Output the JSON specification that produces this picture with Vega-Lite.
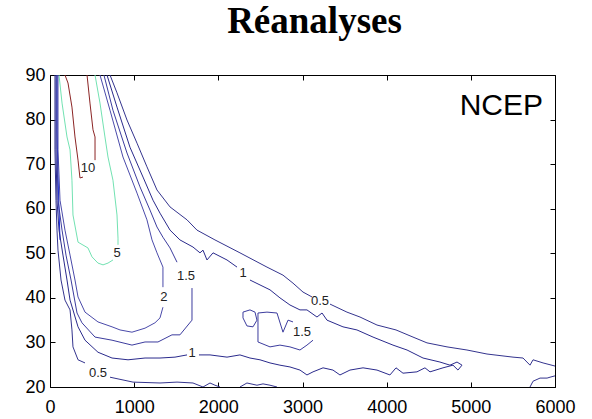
{
  "$schema": "https://vega.github.io/schema/vega-lite/v6.json",
  "width": 505,
  "height": 312,
  "autosize": {"type": "none"},
  "padding": {"left": 50, "top": 75, "right": 37, "bottom": 32},
  "background": "white",
  "title": {"text": "Réanalyses", "font": "Liberation Serif", "fontSize": 37, "fontWeight": "bold", "color": "black", "anchor": "middle", "dx": 12, "offset": -4, "baseline": "alphabetic"},
  "config": {"view": {"stroke": null}},
  "datasets": {
    "lines": [
      {"s":"red1","lv":"10","x":178,"y":90.0},{"s":"red1","lv":"10","x":214,"y":88.2},{"s":"red1","lv":"10","x":261,"y":82.8},{"s":"red1","lv":"10","x":297,"y":76.1},{"s":"red1","lv":"10","x":333,"y":70.9},{"s":"red1","lv":"10","x":356,"y":66.9},{"s":"red1","lv":"10","x":392,"y":67.1},
      {"s":"red2","lv":"10","x":535,"y":70.9},{"s":"red2","lv":"10","x":535,"y":76.1},{"s":"red2","lv":"10","x":511,"y":77.7},{"s":"red2","lv":"10","x":475,"y":83.7},{"s":"red2","lv":"10","x":440,"y":90.0},
      {"s":"g1","lv":"5","x":107,"y":90.0},{"s":"g1","lv":"5","x":143,"y":83.7},{"s":"g1","lv":"5","x":202,"y":76.1},{"s":"g1","lv":"5","x":238,"y":73.2},{"s":"g1","lv":"5","x":261,"y":66.4},{"s":"g1","lv":"5","x":273,"y":58.6},{"s":"g1","lv":"5","x":333,"y":52.5},{"s":"g1","lv":"5","x":451,"y":51.2},{"s":"g1","lv":"5","x":499,"y":49.2},{"s":"g1","lv":"5","x":570,"y":47.8},{"s":"g1","lv":"5","x":630,"y":47.4},{"s":"g1","lv":"5","x":689,"y":47.8},{"s":"g1","lv":"5","x":748,"y":48.5},
      {"s":"g2","lv":"5","x":808,"y":51.9},{"s":"g2","lv":"5","x":808,"y":53.4},{"s":"g2","lv":"5","x":796,"y":58.6},{"s":"g2","lv":"5","x":748,"y":66.4},{"s":"g2","lv":"5","x":689,"y":71.6},{"s":"g2","lv":"5","x":653,"y":76.1},{"s":"g2","lv":"5","x":594,"y":83.7},{"s":"g2","lv":"5","x":535,"y":90.0},
      {"s":"bb","lv":"3","x":83,"y":90.0},{"s":"bb","lv":"3","x":83,"y":77.7},{"s":"bb","lv":"3","x":95,"y":67.6},{"s":"bb","lv":"3","x":107,"y":59.7},{"s":"bb","lv":"3","x":119,"y":53.0},
      {"s":"a05a","lv":"0.5","x":713,"y":90.0},{"s":"a05a","lv":"0.5","x":796,"y":86.0},{"s":"a05a","lv":"0.5","x":915,"y":79.9},{"s":"a05a","lv":"0.5","x":1034,"y":74.7},{"s":"a05a","lv":"0.5","x":1152,"y":69.4},{"s":"a05a","lv":"0.5","x":1271,"y":64.2},{"s":"a05a","lv":"0.5","x":1426,"y":60.4},{"s":"a05a","lv":"0.5","x":1628,"y":57.5},{"s":"a05a","lv":"0.5","x":1746,"y":55.2},{"s":"a05a","lv":"0.5","x":1960,"y":53.0},{"s":"a05a","lv":"0.5","x":2257,"y":50.1},{"s":"a05a","lv":"0.5","x":2578,"y":46.9},{"s":"a05a","lv":"0.5","x":2768,"y":45.1},{"s":"a05a","lv":"0.5","x":2887,"y":43.3},{"s":"a05a","lv":"0.5","x":3006,"y":41.3},{"s":"a05a","lv":"0.5","x":3113,"y":40.2},
      {"s":"a05b","lv":"0.5","x":3327,"y":38.6},{"s":"a05b","lv":"0.5","x":3528,"y":36.8},{"s":"a05b","lv":"0.5","x":3683,"y":35.7},{"s":"a05b","lv":"0.5","x":3885,"y":33.9},{"s":"a05b","lv":"0.5","x":4111,"y":32.8},{"s":"a05b","lv":"0.5","x":4313,"y":31.2},{"s":"a05b","lv":"0.5","x":4479,"y":29.9},{"s":"a05b","lv":"0.5","x":4717,"y":29.0},{"s":"a05b","lv":"0.5","x":4954,"y":28.3},{"s":"a05b","lv":"0.5","x":5192,"y":27.4},{"s":"a05b","lv":"0.5","x":5501,"y":26.7},{"s":"a05b","lv":"0.5","x":5620,"y":26.5},{"s":"a05b","lv":"0.5","x":5703,"y":24.9},{"s":"a05b","lv":"0.5","x":5739,"y":26.1},{"s":"a05b","lv":"0.5","x":5858,"y":25.4},{"s":"a05b","lv":"0.5","x":6000,"y":24.7},
      {"s":"a05c","lv":"0.5","x":59,"y":90.0},{"s":"a05c","lv":"0.5","x":59,"y":73.2},{"s":"a05c","lv":"0.5","x":71,"y":61.9},{"s":"a05c","lv":"0.5","x":83,"y":55.2},{"s":"a05c","lv":"0.5","x":95,"y":50.7},{"s":"a05c","lv":"0.5","x":131,"y":44.0},{"s":"a05c","lv":"0.5","x":178,"y":39.5},{"s":"a05c","lv":"0.5","x":238,"y":37.3},{"s":"a05c","lv":"0.5","x":261,"y":32.8},{"s":"a05c","lv":"0.5","x":273,"y":29.0},{"s":"a05c","lv":"0.5","x":333,"y":26.1},{"s":"a05c","lv":"0.5","x":416,"y":25.4},
      {"s":"a05d","lv":"0.5","x":713,"y":22.2},{"s":"a05d","lv":"0.5","x":986,"y":21.1},{"s":"a05d","lv":"0.5","x":1307,"y":20.9},{"s":"a05d","lv":"0.5","x":1509,"y":21.1},{"s":"a05d","lv":"0.5","x":1699,"y":20.9},{"s":"a05d","lv":"0.5","x":1818,"y":20.0},{"s":"a05d","lv":"0.5","x":1901,"y":20.9},{"s":"a05d","lv":"0.5","x":1960,"y":20.4},{"s":"a05d","lv":"0.5","x":2020,"y":20.0},
      {"s":"a05e","lv":"0.5","x":2257,"y":20.0},{"s":"a05e","lv":"0.5","x":2340,"y":20.9},{"s":"a05e","lv":"0.5","x":2459,"y":20.4},{"s":"a05e","lv":"0.5","x":2531,"y":20.7},{"s":"a05e","lv":"0.5","x":2614,"y":20.4},{"s":"a05e","lv":"0.5","x":2697,"y":20.0},
      {"s":"a05f","lv":"0.5","x":5703,"y":20.0},{"s":"a05f","lv":"0.5","x":5739,"y":21.3},{"s":"a05f","lv":"0.5","x":5822,"y":22.0},{"s":"a05f","lv":"0.5","x":5906,"y":22.0},{"s":"a05f","lv":"0.5","x":5941,"y":22.2},{"s":"a05f","lv":"0.5","x":6000,"y":22.5},
      {"s":"b1a","lv":"1","x":677,"y":90.0},{"s":"b1a","lv":"1","x":796,"y":82.8},{"s":"b1a","lv":"1","x":950,"y":73.8},{"s":"b1a","lv":"1","x":1105,"y":67.1},{"s":"b1a","lv":"1","x":1224,"y":61.9},{"s":"b1a","lv":"1","x":1307,"y":59.0},{"s":"b1a","lv":"1","x":1426,"y":55.2},{"s":"b1a","lv":"1","x":1544,"y":53.0},{"s":"b1a","lv":"1","x":1699,"y":51.4},{"s":"b1a","lv":"1","x":1782,"y":50.1},{"s":"b1a","lv":"1","x":1818,"y":50.7},{"s":"b1a","lv":"1","x":1865,"y":48.5},{"s":"b1a","lv":"1","x":1937,"y":50.1},{"s":"b1a","lv":"1","x":2103,"y":48.5},{"s":"b1a","lv":"1","x":2222,"y":46.9},
      {"s":"b1b","lv":"1","x":2376,"y":44.0},{"s":"b1b","lv":"1","x":2614,"y":41.8},{"s":"b1b","lv":"1","x":2732,"y":40.0},{"s":"b1b","lv":"1","x":2851,"y":38.4},{"s":"b1b","lv":"1","x":2970,"y":37.3},{"s":"b1b","lv":"1","x":3053,"y":37.3},{"s":"b1b","lv":"1","x":3172,"y":35.7},{"s":"b1b","lv":"1","x":3232,"y":36.6},{"s":"b1b","lv":"1","x":3291,"y":35.0},{"s":"b1b","lv":"1","x":3481,"y":33.5},{"s":"b1b","lv":"1","x":3647,"y":32.8},{"s":"b1b","lv":"1","x":3838,"y":31.2},{"s":"b1b","lv":"1","x":4075,"y":29.4},{"s":"b1b","lv":"1","x":4242,"y":28.3},{"s":"b1b","lv":"1","x":4432,"y":26.5},{"s":"b1b","lv":"1","x":4633,"y":25.6},{"s":"b1b","lv":"1","x":4752,"y":24.9},{"s":"b1b","lv":"1","x":4836,"y":25.6},{"s":"b1b","lv":"1","x":4895,"y":24.9},{"s":"b1b","lv":"1","x":4847,"y":23.8},{"s":"b1b","lv":"1","x":4788,"y":24.9},{"s":"b1b","lv":"1","x":4669,"y":24.3},{"s":"b1b","lv":"1","x":4515,"y":23.4},{"s":"b1b","lv":"1","x":4455,"y":24.3},{"s":"b1b","lv":"1","x":4360,"y":23.4},{"s":"b1b","lv":"1","x":4194,"y":23.1},{"s":"b1b","lv":"1","x":4111,"y":24.3},{"s":"b1b","lv":"1","x":4039,"y":22.7},{"s":"b1b","lv":"1","x":3885,"y":23.8},{"s":"b1b","lv":"1","x":3719,"y":24.3},{"s":"b1b","lv":"1","x":3564,"y":23.8},{"s":"b1b","lv":"1","x":3445,"y":22.7},{"s":"b1b","lv":"1","x":3362,"y":23.8},{"s":"b1b","lv":"1","x":3244,"y":24.3},{"s":"b1b","lv":"1","x":3125,"y":23.4},{"s":"b1b","lv":"1","x":3053,"y":22.7},{"s":"b1b","lv":"1","x":2970,"y":23.8},{"s":"b1b","lv":"1","x":2851,"y":24.5},{"s":"b1b","lv":"1","x":2732,"y":24.9},{"s":"b1b","lv":"1","x":2614,"y":25.4},{"s":"b1b","lv":"1","x":2495,"y":26.1},{"s":"b1b","lv":"1","x":2376,"y":26.5},{"s":"b1b","lv":"1","x":2257,"y":27.2},{"s":"b1b","lv":"1","x":2103,"y":26.7},{"s":"b1b","lv":"1","x":1901,"y":27.2},{"s":"b1b","lv":"1","x":1770,"y":27.2},
      {"s":"b1c","lv":"1","x":1628,"y":27.2},{"s":"b1c","lv":"1","x":1485,"y":26.7},{"s":"b1c","lv":"1","x":1307,"y":26.5},{"s":"b1c","lv":"1","x":1129,"y":26.5},{"s":"b1c","lv":"1","x":927,"y":26.1},{"s":"b1c","lv":"1","x":737,"y":26.5},{"s":"b1c","lv":"1","x":570,"y":27.8},{"s":"b1c","lv":"1","x":416,"y":30.5},{"s":"b1c","lv":"1","x":333,"y":33.5},{"s":"b1c","lv":"1","x":238,"y":39.5},{"s":"b1c","lv":"1","x":202,"y":44.0},{"s":"b1c","lv":"1","x":154,"y":49.6},{"s":"b1c","lv":"1","x":107,"y":55.2},{"s":"b1c","lv":"1","x":83,"y":61.9},{"s":"b1c","lv":"1","x":71,"y":73.2},{"s":"b1c","lv":"1","x":71,"y":90.0},
      {"s":"c15a","lv":"1.5","x":641,"y":90.0},{"s":"c15a","lv":"1.5","x":748,"y":82.1},{"s":"c15a","lv":"1.5","x":915,"y":72.5},{"s":"c15a","lv":"1.5","x":1069,"y":64.9},{"s":"c15a","lv":"1.5","x":1188,"y":59.7},{"s":"c15a","lv":"1.5","x":1271,"y":55.9},{"s":"c15a","lv":"1.5","x":1342,"y":53.6},{"s":"c15a","lv":"1.5","x":1426,"y":51.2},{"s":"c15a","lv":"1.5","x":1509,"y":48.0},
      {"s":"c15b","lv":"1.5","x":1687,"y":42.2},{"s":"c15b","lv":"1.5","x":1687,"y":35.0},{"s":"c15b","lv":"1.5","x":1544,"y":31.7},{"s":"c15b","lv":"1.5","x":1449,"y":31.7},{"s":"c15b","lv":"1.5","x":1283,"y":30.1},{"s":"c15b","lv":"1.5","x":1129,"y":30.1},{"s":"c15b","lv":"1.5","x":974,"y":29.4},{"s":"c15b","lv":"1.5","x":737,"y":30.5},{"s":"c15b","lv":"1.5","x":535,"y":31.2},{"s":"c15b","lv":"1.5","x":380,"y":34.4},{"s":"c15b","lv":"1.5","x":321,"y":36.6},{"s":"c15b","lv":"1.5","x":250,"y":44.0},{"s":"c15b","lv":"1.5","x":190,"y":49.6},{"s":"c15b","lv":"1.5","x":143,"y":55.2},{"s":"c15b","lv":"1.5","x":95,"y":61.9},{"s":"c15b","lv":"1.5","x":83,"y":73.2},{"s":"c15b","lv":"1.5","x":83,"y":90.0},
      {"s":"c15c","lv":"1.5","x":3125,"y":30.5},{"s":"c15c","lv":"1.5","x":3053,"y":29.4},{"s":"c15c","lv":"1.5","x":2970,"y":28.3},{"s":"c15c","lv":"1.5","x":2851,"y":29.0},{"s":"c15c","lv":"1.5","x":2732,"y":29.4},{"s":"c15c","lv":"1.5","x":2614,"y":29.0},{"s":"c15c","lv":"1.5","x":2471,"y":30.1},{"s":"c15c","lv":"1.5","x":2471,"y":33.9},{"s":"c15c","lv":"1.5","x":2471,"y":36.6},{"s":"c15c","lv":"1.5","x":2578,"y":36.8},{"s":"c15c","lv":"1.5","x":2697,"y":36.6},{"s":"c15c","lv":"1.5","x":2768,"y":32.3},{"s":"c15c","lv":"1.5","x":2828,"y":35.0},{"s":"c15c","lv":"1.5","x":2887,"y":34.6},
      {"s":"c15d","lv":"1.5","x":2293,"y":36.8},{"s":"c15d","lv":"1.5","x":2376,"y":37.3},{"s":"c15d","lv":"1.5","x":2436,"y":36.8},{"s":"c15d","lv":"1.5","x":2459,"y":35.0},{"s":"c15d","lv":"1.5","x":2412,"y":33.5},{"s":"c15d","lv":"1.5","x":2340,"y":33.7},{"s":"c15d","lv":"1.5","x":2293,"y":35.5},{"s":"c15d","lv":"1.5","x":2293,"y":36.8},
      {"s":"d2a","lv":"2","x":594,"y":90.0},{"s":"d2a","lv":"2","x":713,"y":82.1},{"s":"d2a","lv":"2","x":867,"y":71.6},{"s":"d2a","lv":"2","x":1034,"y":63.5},{"s":"d2a","lv":"2","x":1152,"y":57.5},{"s":"d2a","lv":"2","x":1212,"y":53.0},{"s":"d2a","lv":"2","x":1271,"y":50.1},{"s":"d2a","lv":"2","x":1342,"y":46.9},{"s":"d2a","lv":"2","x":1342,"y":42.4},
      {"s":"d2b","lv":"2","x":1342,"y":37.9},{"s":"d2b","lv":"2","x":1307,"y":35.5},{"s":"d2b","lv":"2","x":1247,"y":34.4},{"s":"d2b","lv":"2","x":1129,"y":33.2},{"s":"d2b","lv":"2","x":974,"y":32.3},{"s":"d2b","lv":"2","x":832,"y":32.8},{"s":"d2b","lv":"2","x":737,"y":33.5},{"s":"d2b","lv":"2","x":570,"y":34.6},{"s":"d2b","lv":"2","x":416,"y":36.8},{"s":"d2b","lv":"2","x":333,"y":40.2},{"s":"d2b","lv":"2","x":297,"y":44.0},{"s":"d2b","lv":"2","x":238,"y":49.6},{"s":"d2b","lv":"2","x":178,"y":55.2},{"s":"d2b","lv":"2","x":119,"y":61.9},{"s":"d2b","lv":"2","x":95,"y":73.2},{"s":"d2b","lv":"2","x":95,"y":90.0}
    ],
    "labels": [
      {"x":451,"y":69.1,"t":"10"},
      {"x":796,"y":50.1,"t":"5"},
      {"x":1616,"y":44.9,"t":"1.5"},
      {"x":1354,"y":40.2,"t":"2"},
      {"x":2293,"y":45.6,"t":"1"},
      {"x":3208,"y":39.3,"t":"0.5"},
      {"x":2994,"y":32.3,"t":"1.5"},
      {"x":1687,"y":27.6,"t":"1"},
      {"x":570,"y":23.1,"t":"0.5"}
    ],
    "tag": [{"x":5858,"y":81.0,"t":"NCEP"}]
  },
  "layer": [
    {
      "data": {"name": "lines"},
      "mark": {"type": "line", "strokeWidth": 1, "clip": true},
      "encoding": {
        "x": {"field": "x", "type": "quantitative", "scale": {"domain": [0, 6000], "nice": false, "zero": false},
          "axis": {"orient": "bottom", "values": [0,1000,2000,3000,4000,5000,6000], "format": "d", "title": null, "grid": false, "tickSize": -5, "labelPadding": 16, "labelFont": "Liberation Sans", "labelFontSize": 18, "labelColor": "black", "domainColor": "black", "tickColor": "black", "labelFlush": false}},
        "y": {"field": "y", "type": "quantitative", "scale": {"domain": [20, 90], "nice": false, "zero": false},
          "axis": {"orient": "left", "values": [20,30,40,50,60,70,80,90], "format": "d", "title": null, "grid": false, "tickSize": -5, "labelPadding": 10, "labelFont": "Liberation Sans", "labelFontSize": 18, "labelColor": "black", "domainColor": "black", "tickColor": "black", "labelFlush": false}},
        "detail": {"field": "s"},
        "order": {"value": null},
        "color": {"field": "lv", "type": "nominal", "legend": null,
          "scale": {"domain": ["0.5","1","1.5","2","3","5","10"], "range": ["#34348e","#2a2a8c","#3c3c9e","#4a4aaa","#1428e6","#72e2b2","#8b2424"]}}
      }
    },
    {
      "data": {"name": "labels"},
      "mark": {"type": "text", "font": "Liberation Sans", "fontSize": 13, "color": "#222222", "align": "center", "baseline": "middle"},
      "encoding": {
        "x": {"field": "x", "type": "quantitative", "axis": null},
        "y": {"field": "y", "type": "quantitative", "axis": null},
        "text": {"field": "t"}
      }
    },
    {
      "data": {"name": "tag"},
      "mark": {"type": "text", "font": "Liberation Sans", "fontSize": 30, "color": "black", "align": "right", "baseline": "alphabetic"},
      "encoding": {
        "x": {"field": "x", "type": "quantitative",
          "axis": {"orient": "top", "values": [0,1000,2000,3000,4000,5000,6000], "labels": false, "title": null, "grid": false, "tickSize": -5, "domainColor": "black", "tickColor": "black"}},
        "y": {"field": "y", "type": "quantitative",
          "axis": {"orient": "right", "values": [20,30,40,50,60,70,80,90], "labels": false, "title": null, "grid": false, "tickSize": -5, "domainColor": "black", "tickColor": "black"}},
        "text": {"field": "t"}
      }
    }
  ],
  "resolve": {"axis": {"x": "independent", "y": "independent"}}
}
